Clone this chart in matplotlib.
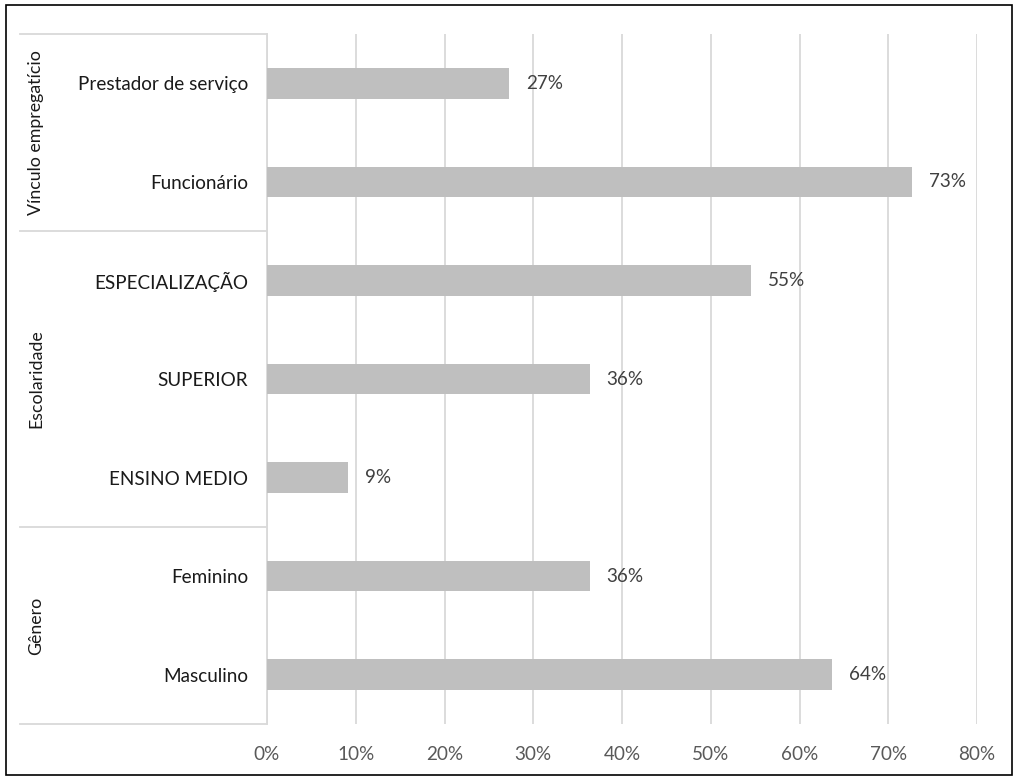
import matplotlib.pyplot as plt
from matplotlib.patches import Rectangle
from matplotlib.transforms import blended_transform_factory

plt.rcParams['font.family'] = ['Lato', 'DejaVu Sans']

# Categories from top to bottom, with their group
categories = ["Prestador de serviço", "Funcionário", "ESPECIALIZAÇÃO", "SUPERIOR",
              "ENSINO MEDIO", "Feminino", "Masculino"]
values = [3/11, 8/11, 6/11, 4/11, 1/11, 4/11, 7/11]
value_labels = ["27%", "73%", "55%", "36%", "9%", "36%", "64%"]
groups = ["Vínculo empregatício", "Escolaridade", "Gênero"]
group_sizes = [2, 3, 2]
x_ticks = [0, 0.1, 0.2, 0.3, 0.4, 0.5, 0.6, 0.7, 0.8]
x_tick_labels = ["0%", "10%", "20%", "30%", "40%", "50%", "60%", "70%", "80%"]

FS = 13.6
W, H = 1018, 781
fig = plt.figure(figsize=(W / 100, H / 100), dpi=100)
left, right, top, bottom = 267, 977, 34, 724
ax = fig.add_axes([left / W, 1 - bottom / H, (right - left) / W, (bottom - top) / H])

n = len(categories)
ypos = list(range(n - 1, -1, -1))
ax.barh(ypos, values, height=0.31, color="#BFBFBF", zorder=3)

for y, v, lab in zip(ypos, values, value_labels):
    ax.text(v + 0.019, y, lab, va="center", ha="left", fontsize=FS, color="#404040")

ax.set_xlim(0, 0.8)
ax.set_ylim(-0.5, n - 0.5)
ax.set_xticks(x_ticks)
ax.set_xticklabels(x_tick_labels, fontsize=FS, color="#595959")
ax.set_yticks(ypos)
ax.set_yticklabels(categories, fontsize=FS, color="#1a1a1a")
ax.tick_params(axis="both", length=0)
ax.tick_params(axis="y", pad=13.5)
ax.tick_params(axis="x", pad=15.5)
ax.grid(axis="x", color="#D9D9D9", lw=1.3, zorder=0)
for s in ["top", "right", "bottom"]:
    ax.spines[s].set_visible(False)
ax.spines["left"].set_color("#D9D9D9")
ax.spines["left"].set_linewidth(1.3)

# Group separators and group labels in the category area
trans = blended_transform_factory(ax.transAxes, ax.transData)
x_start = (20 - left) / (right - left)
x_label = (36 - left) / (right - left)
edge = n - 0.5
ax.plot([x_start, 0], [edge, edge], transform=trans, color="#D9D9D9", lw=1.3, clip_on=False)
for g, size in zip(groups, group_sizes):
    lower = edge - size
    ax.plot([x_start, 0], [lower, lower], transform=trans, color="#D9D9D9", lw=1.3, clip_on=False)
    ax.text(x_label, (edge + lower) / 2, g, transform=trans, rotation=90,
            ha="center", va="center", fontsize=FS - 0.8, color="#1a1a1a")
    edge = lower

# Chart border
fig.add_artist(Rectangle((6 / W, 1 - 775 / H), (1012 - 6) / W, (775 - 5) / H,
                         transform=fig.transFigure, fill=False, edgecolor="black", lw=1.2))

fig.savefig("out.png", dpi=100)
